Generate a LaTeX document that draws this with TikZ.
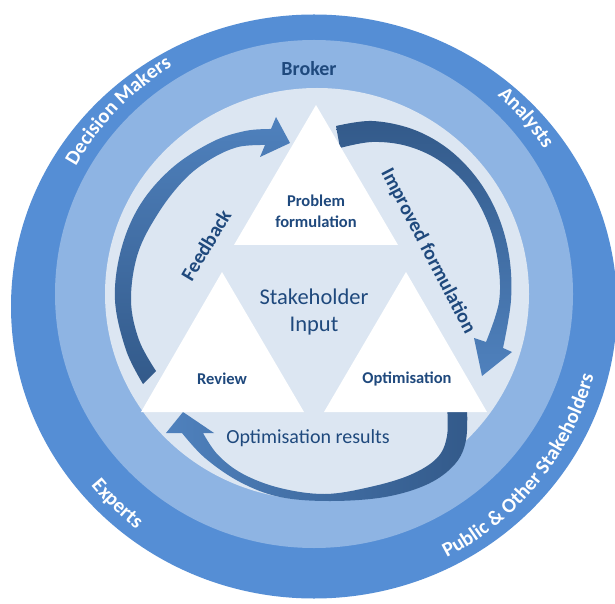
\documentclass[tikz,border=0pt]{standalone}
\usepackage{fontspec}
\setmainfont{Carlito}
\usetikzlibrary{decorations.text}

\definecolor{ringouter}{HTML}{558ED5}
\definecolor{ringmid}{HTML}{8EB4E3}
\definecolor{ringinner}{HTML}{DCE6F2}
\definecolor{navy}{HTML}{1F497D}
\definecolor{arrowlight}{HTML}{4F81BD}
\definecolor{arrowdark}{HTML}{335A8A}

\tikzset{
  stage/.style={fill=white, draw=none},
  stagelabel/.style={text=navy, font=\fontsize{16.5}{21}\selectfont\bfseries, align=center},
  flowlabel/.style={text=navy, font=\fontsize{20}{24}\selectfont\bfseries},
  ringlabel/.style={decorate, decoration={text along path, text align=center,
      text color=white, text={|\fontsize{20.5}{24}\selectfont\bfseries|#1}}},
}

\begin{document}
\begin{tikzpicture}[x=1pt,y=1pt]
\useasboundingbox (0,0) rectangle (615,603);
\clip (0,0) rectangle (615,603);
\fill[white] (0,0) rectangle (615,603);

% concentric rings
\fill[ringouter] (314,296.5) ellipse[x radius=303, y radius=292];
\fill[ringmid] (314,309) ellipse[x radius=259, y radius=254];
\fill[ringinner] (317,309) ellipse[x radius=212, y radius=206];

% feedback arrow (review -> problem formulation)
\shade[top color=arrowlight, bottom color=arrowdark]
  plot[smooth, tension=0.6] coordinates {(143,219) (126,253) (115,303) (121,353) (140,398) (172,435) (212,461) (245,472) (271,474)}
  -- (276,486) -- (290,460) -- (260,446)
  -- plot[smooth, tension=0.6] coordinates {(265,458) (238,456) (211,444) (185,424) (159,391) (138,350) (131,303) (139,263) (156,232)}
  -- cycle;

% improved formulation arrow (problem formulation -> optimisation)
\shade[top color=arrowdark, bottom color=arrowlight]
  plot[smooth, tension=0.6] coordinates {(336,477) (372,482) (412,474) (447,455) (476,426) (497,390) (509,348) (511,303) (503,255)}
  -- (512,251) -- (482,227) -- (474,265)
  -- plot[smooth, tension=0.6] coordinates {(486,261) (499,301) (498,341) (488,380) (468,416) (440,442) (407,457) (372,461) (340,455)}
  -- cycle;

% optimisation results arrow (optimisation -> review)
\shade[left color=arrowlight, right color=arrowdark]
  plot[smooth, tension=0.6] coordinates {(467,198) (466,163) (455,139) (428,119) (385,106) (330,102) (280,106) (240,121) (205,145) (182,170)}
  -- (166,170) -- (183,191) -- (214,170)
  -- plot[smooth, tension=0.6] coordinates {(203,170) (218,148) (243,129) (280,115) (325,109) (370,116) (410,128) (437,145) (447,167) (447,198)}
  -- cycle;

% the three stages
\fill[stage] (316,498) -- (398,358) -- (234,358) -- cycle;
\fill[stage] (222,331) -- (304,191) -- (141,191) -- cycle;
\fill[stage] (406,331) -- (487,191) -- (324,191) -- cycle;

\node[stagelabel] (problem) at (316,392) {Problem\\formulation};
\node[stagelabel] (review) at (222,224) {Review};
\node[stagelabel] (optim) at (407,224) {Optimisation};

\node[text=navy, font=\fontsize{22.5}{27}\selectfont, align=center] (input) at (314,291) {Stakeholder\\Input};
\node[text=navy, font=\fontsize{20}{24}\selectfont] (results) at (308,165) {Optimisation results};
\node[flowlabel, rotate=59] (feedback) at (206,358) {Feedback};
\node[flowlabel, rotate=-62.5] (improved) at (428,352) {Improved formulation};

\node[text=navy, font=\fontsize{20}{24}\selectfont\bfseries] (broker) at (309,534) {Broker};

% participants around the outer ring
\path[ringlabel={Decision Makers}] ([shift={(314,303)}]166:273) arc[start angle=166, end angle=106, radius=273];
\path[ringlabel={Analysts}] ([shift={(314,303)}]70.7:275) arc[start angle=70.7, end angle=10.7, radius=275];
\path[ringlabel={Experts}] ([shift={(314,303)}]196:290) arc[start angle=196, end angle=256, radius=290];
\path[ringlabel={Public {\&} Other Stakeholders}] ([shift={(314,303)}]-79:290) arc[start angle=-79, end angle=1, radius=290];
\end{tikzpicture}
\end{document}
